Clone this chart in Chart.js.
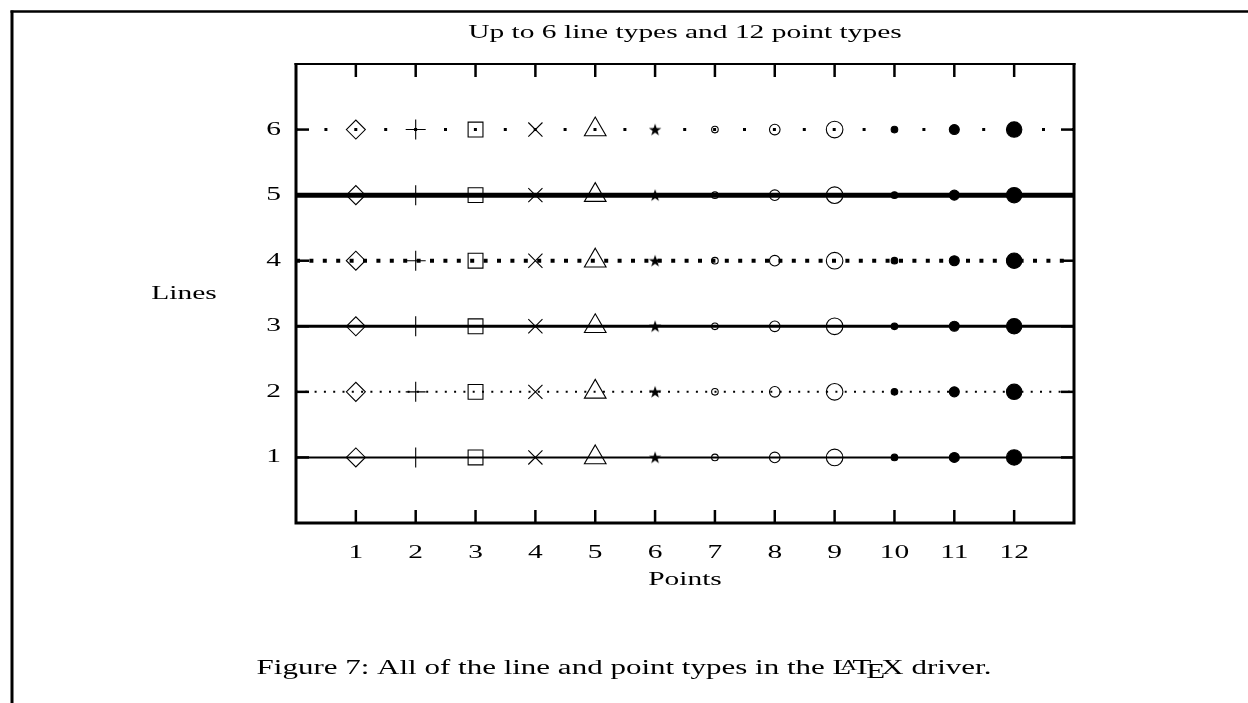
<!DOCTYPE html>
<html><head><meta charset="utf-8">
<script src="https://cdn.jsdelivr.net/npm/chart.js@4/dist/chart.umd.min.js"></script>
<style>html,body{margin:0;padding:0;background:#fff;overflow:hidden}canvas{display:block}</style>
</head><body>
<canvas id="c" width="1248" height="703"></canvas>
<script>
// ---- data ----
const chartTitle = 'Up to 6 line types and 12 point types';
const xAxisLabel = 'Points';
const yAxisLabel = 'Lines';
const captionBefore = 'Figure 7: All of the line and point types in the ';
const captionAfter = ' driver.';
const pointTypes = [1, 2, 3, 4, 5, 6, 7, 8, 9, 10, 11, 12];
const lineTypes = [1, 2, 3, 4, 5, 6];
const xTickLabels = ['1', '2', '3', '4', '5', '6', '7', '8', '9', '10', '11', '12'];
const yTickLabels = ['1', '2', '3', '4', '5', '6'];
const xRange = [0, 13];
const yRange = [0, 7];

// ---- styles ----
const FONT = '"Liberation Serif", "Times New Roman", serif';
const FS = 19;
const CAP_FS = 20;
const SX = 1.55;
function makeStar() {
  const c = document.createElement('canvas');
  c.width = 14; c.height = 14;
  const g = c.getContext('2d');
  g.fillStyle = '#000';
  g.beginPath();
  for (let i = 0; i < 10; i++) {
    const r = i % 2 === 0 ? 6.5 : 2.6;
    const a = -Math.PI / 2 + i * Math.PI / 5;
    const px = 7 + r * Math.cos(a), py = 7.5 + r * Math.sin(a);
    if (i === 0) g.moveTo(px, py); else g.lineTo(px, py);
  }
  g.closePath(); g.fill();
  return c;
}
const star = makeStar();
const pStyles = ['rectRot', 'cross', 'rect', 'crossRot', 'triangle', star, 'circle', 'circle', 'circle', 'circle', 'circle', 'circle'];
const pRadius = [9.5, 10, 10.5, 10, 12.5, 7, 3.3, 5.3, 8.3, 3.3, 5, 7.7];
const pFill = ['rgba(0,0,0,0)', 'rgba(0,0,0,0)', 'rgba(0,0,0,0)', 'rgba(0,0,0,0)', 'rgba(0,0,0,0)', 'rgba(0,0,0,0)', 'rgba(0,0,0,0)', 'rgba(0,0,0,0)', 'rgba(0,0,0,0)', '#000', '#000', '#000'];
const lWidth = [2, 2, 3, 4, 5, 3];
const lDash = [[], [2, 7.3], [], [4, 9.4], [], [3, 26.9]];
const lDashOff = [0, 0, 0, 0, 0, 1.5];

const datasets = [];
lineTypes.forEach((lt, i) => {
  datasets.push({
    data: xRange.map(x => ({x: x, y: lt})),
    borderColor: '#000', borderWidth: lWidth[i], borderDash: lDash[i], borderDashOffset: lDashOff[i],
    pointRadius: 0, showLine: true, borderCapStyle: 'butt', fill: false
  });
  datasets.push({
    data: pointTypes.map(p => ({x: p, y: lt})),
    showLine: false,
    pointStyle: pStyles, pointRadius: pRadius, pointBackgroundColor: pFill,
    pointBorderColor: '#000', pointBorderWidth: 1.1
  });
});

function txt(ctx, s, x, y, align, size) {
  ctx.font = (size || FS) + 'px ' + FONT;
  const w = ctx.measureText(s).width * SX;
  let left = x;
  if (align === 'center') left = x - w / 2; else if (align === 'right') left = x - w;
  ctx.save();
  ctx.translate(left, y); ctx.scale(SX, 1);
  ctx.textAlign = 'left'; ctx.textBaseline = 'middle'; ctx.fillStyle = '#000';
  ctx.fillText(s, 0, 0);
  ctx.restore();
}

const decor = {
  id: 'decor',
  afterDraw(chart) {
    const ctx = chart.ctx, a = chart.chartArea;
    const xs = chart.scales.x, ys = chart.scales.y;
    ctx.save();
    ctx.strokeStyle = '#000'; ctx.lineCap = 'butt';
    // page frame
    ctx.lineWidth = 2.5;
    ctx.beginPath(); ctx.moveTo(10.5, 11.5); ctx.lineTo(chart.width, 11.5); ctx.stroke();
    ctx.lineWidth = 3;
    ctx.beginPath(); ctx.moveTo(12, 10.5); ctx.lineTo(12, chart.height); ctx.stroke();
    // plot frame
    ctx.lineWidth = 2;
    ctx.beginPath(); ctx.moveTo(a.left - 1.5, a.top); ctx.lineTo(a.right + 1.5, a.top); ctx.stroke();
    ctx.lineWidth = 3;
    ctx.beginPath(); ctx.moveTo(a.left, a.top - 1); ctx.lineTo(a.left, a.bottom); ctx.lineTo(a.right, a.bottom); ctx.lineTo(a.right, a.top - 1); ctx.stroke();
    // ticks
    ctx.lineWidth = 2.5;
    const TL = 13;
    pointTypes.forEach(v => {
      const px = xs.getPixelForValue(v);
      ctx.beginPath(); ctx.moveTo(px, a.bottom); ctx.lineTo(px, a.bottom - TL); ctx.stroke();
      ctx.beginPath(); ctx.moveTo(px, a.top); ctx.lineTo(px, a.top + TL); ctx.stroke();
    });
    lineTypes.forEach(v => {
      const py = ys.getPixelForValue(v);
      ctx.beginPath(); ctx.moveTo(a.left, py); ctx.lineTo(a.left + TL, py); ctx.stroke();
      ctx.beginPath(); ctx.moveTo(a.right, py); ctx.lineTo(a.right - TL, py); ctx.stroke();
    });
    // texts
    const cx = (a.left + a.right) / 2;
    txt(ctx, chartTitle, cx, a.top - 31, 'center');
    xTickLabels.forEach((s, i) => txt(ctx, s, xs.getPixelForValue(pointTypes[i]), a.bottom + 30, 'center'));
    yTickLabels.forEach((s, i) => txt(ctx, s, a.left - 15, ys.getPixelForValue(lineTypes[i]), 'right'));
    txt(ctx, xAxisLabel, cx, a.bottom + 57, 'center');
    txt(ctx, yAxisLabel, a.left - 112, (a.top + a.bottom) / 2 + 1, 'center');
    // caption with LaTeX logo
    const cy = 667;
    const F = CAP_FS;
    ctx.font = F + 'px ' + FONT;
    const em = F;
    const wB = ctx.measureText(captionBefore).width;
    const wA = ctx.measureText(captionAfter).width;
    const wL = ctx.measureText('L').width, wT = ctx.measureText('T').width, wE = ctx.measureText('E').width, wX = ctx.measureText('X').width;
    ctx.font = (F * 0.75) + 'px ' + FONT;
    const wAs = ctx.measureText('A').width;
    const logoW = wL - 0.36 * em + wAs - 0.15 * em + wT - 0.1667 * em + wE - 0.125 * em + wX;
    const total = (wB + logoW + wA) * SX;
    const left = chart.width / 2 - total / 2;
    ctx.save();
    ctx.translate(left, cy); ctx.scale(SX, 1);
    ctx.fillStyle = '#000'; ctx.textAlign = 'left'; ctx.textBaseline = 'alphabetic';
    const base = F * 0.33;
    ctx.font = F + 'px ' + FONT;
    let x = 0;
    ctx.fillText(captionBefore, x, base); x += wB;
    ctx.fillText('L', x, base); x += wL - 0.36 * em;
    ctx.font = (F * 0.75) + 'px ' + FONT;
    ctx.fillText('A', x, base - 0.2 * em); x += wAs - 0.15 * em;
    ctx.font = F + 'px ' + FONT;
    ctx.fillText('T', x, base); x += wT - 0.1667 * em;
    ctx.fillText('E', x, base + 0.22 * em); x += wE - 0.125 * em;
    ctx.fillText('X', x, base); x += wX;
    ctx.fillText(captionAfter, x, base);
    ctx.restore();
    ctx.restore();
  }
};

new Chart(document.getElementById('c'), {
  type: 'scatter',
  data: {datasets: datasets},
  options: {
    responsive: false, animation: false, devicePixelRatio: 1,
    layout: {padding: {top: 64, right: 174, bottom: 0, left: 0}},
    plugins: {legend: {display: false}, tooltip: {enabled: false}, title: {display: false}},
    events: [],
    scales: {
      x: {type: 'linear', min: xRange[0], max: xRange[1],
          afterBuildTicks: s => { s.ticks = pointTypes.map(v => ({value: v})); },
          ticks: {display: false}, grid: {display: false}, border: {display: false},
          afterFit: s => { s.height = 180; }},
      y: {type: 'linear', min: yRange[0], max: yRange[1],
          afterBuildTicks: s => { s.ticks = lineTypes.map(v => ({value: v})); },
          ticks: {display: false}, grid: {display: false}, border: {display: false},
          afterFit: s => { s.width = 296; }}
    }
  },
  plugins: [decor]
});
</script>
</body></html>
